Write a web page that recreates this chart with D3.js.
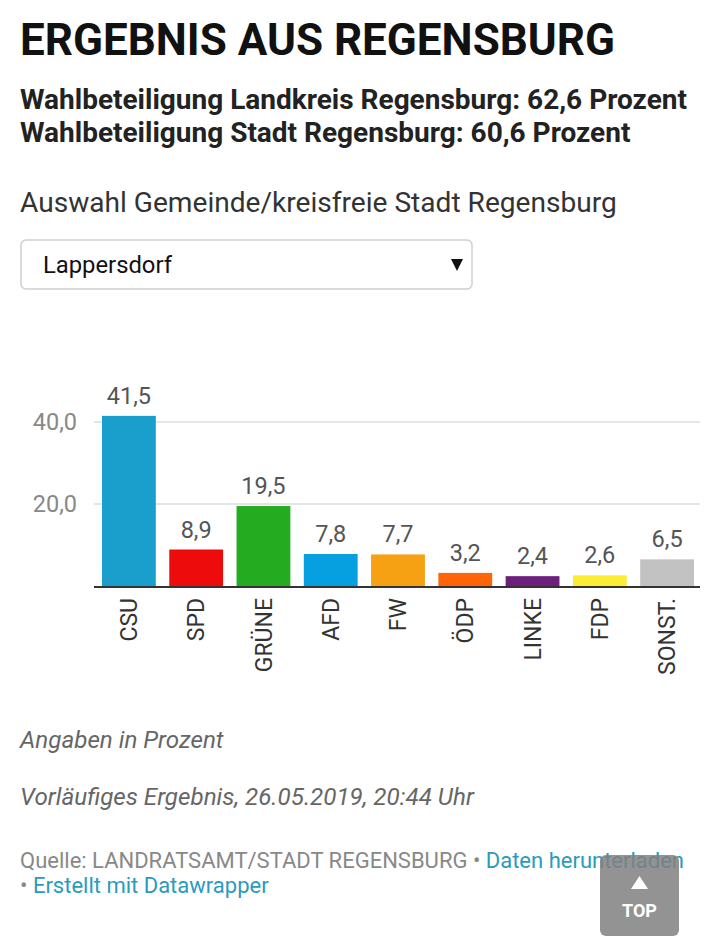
<!DOCTYPE html>
<html>
<head>
<meta charset="utf-8">
<script src="https://cdn.jsdelivr.net/npm/d3@7"></script>
<style>
  body { margin: 0; background: #fff; }
  svg { display: block; font-family: Roboto, "Noto Sans", sans-serif; }
</style>
</head>
<body>
<svg id="chart"></svg>
<script>
const width = 720;
const height = 948;

// data
const parties = ["CSU", "SPD", "GRÜNE", "AFD", "FW", "ÖDP", "LINKE", "FDP", "SONST."];
const values = [41.5, 8.9, 19.5, 7.8, 7.7, 3.2, 2.4, 2.6, 6.5];
const partyColors = ["#1a9fcd", "#ee0b0b", "#25ab1f", "#069fdf", "#f6a013", "#ff6408", "#6d1f7c", "#fdec34", "#c2c2c2"];
const yTicks = [20, 40];
const yTickLabels = ["20,0", "40,0"];

const title = "ERGEBNIS AUS REGENSBURG";
const subtitles = [
    "Wahlbeteiligung Landkreis Regensburg: 62,6 Prozent",
    "Wahlbeteiligung Stadt Regensburg: 60,6 Prozent"
];

const svg = d3.select("#chart")
    .attr("width", width)
    .attr("height", height);

const fmt = v => v.toFixed(1).replace(".", ",");

// header
svg.append("text")
    .attr("x", 20).attr("y", 55)
    .attr("font-size", 44).attr("font-weight", 700).attr("fill", "#111")
    .text(title);

subtitles.forEach((s, i) => {
    svg.append("text")
        .attr("x", 20).attr("y", 109 + i * 33)
        .attr("font-size", 28).attr("font-weight", 700).attr("fill", "#222")
        .text(s);
});

svg.append("text")
    .attr("x", 20).attr("y", 212)
    .attr("font-size", 28.1).attr("fill", "#333")
    .text("Auswahl Gemeinde/kreisfreie Stadt Regensburg");

// dropdown
svg.append("rect")
    .attr("x", 21).attr("y", 240).attr("width", 451).attr("height", 49)
    .attr("rx", 5).attr("fill", "#fff")
    .attr("stroke", "#cfcfcf").attr("stroke-width", 1.5);

svg.append("text")
    .attr("x", 43).attr("y", 273)
    .attr("font-size", 23.8).attr("fill", "#111")
    .text("Lappersdorf");

svg.append("path")
    .attr("d", "M451,259 L463,259 L457,271 Z")
    .attr("fill", "#111");

// chart
const x = d3.scaleBand()
    .domain(parties)
    .range([102, 694])
    .paddingInner(0.2)
    .paddingOuter(0);

const y = d3.scaleLinear()
    .domain([0, 40])
    .range([586, 422]);

const grid = svg.append("g");
yTicks.forEach((t, i) => {
    grid.append("line")
        .attr("x1", 94).attr("x2", 700)
        .attr("y1", y(t)).attr("y2", y(t))
        .attr("stroke", "#dcdcdc").attr("stroke-width", 1.5);
    grid.append("text")
        .attr("x", 77).attr("y", y(t))
        .attr("dy", "0.35em")
        .attr("text-anchor", "end")
        .attr("font-size", 23.5).attr("fill", "#888")
        .text(yTickLabels[i]);
});

const data = parties.map((p, i) => ({party: p, value: values[i], color: partyColors[i]}));

svg.selectAll("rect.bar")
    .data(data)
    .join("rect")
    .attr("class", "bar")
    .attr("x", d => x(d.party))
    .attr("y", d => y(d.value))
    .attr("width", x.bandwidth())
    .attr("height", d => y(0) - y(d.value))
    .attr("fill", d => d.color);

svg.selectAll("text.val")
    .data(data)
    .join("text")
    .attr("class", "val")
    .attr("x", d => x(d.party) + x.bandwidth() / 2)
    .attr("y", d => y(d.value) - 12)
    .attr("text-anchor", "middle")
    .attr("font-size", 23.5).attr("fill", "#555")
    .text(d => fmt(d.value));

// baseline
svg.append("line")
    .attr("x1", 94).attr("x2", 700)
    .attr("y1", y(0) + 1).attr("y2", y(0) + 1)
    .attr("stroke", "#333").attr("stroke-width", 2);

svg.selectAll("text.cat")
    .data(data)
    .join("text")
    .attr("class", "cat")
    .attr("transform", d => `translate(${x(d.party) + x.bandwidth() / 2},598) rotate(-90)`)
    .attr("dy", "0.35em")
    .attr("text-anchor", "end")
    .attr("font-size", 23).attr("fill", "#333")
    .text(d => d.party);

// notes
svg.append("text")
    .attr("x", 20).attr("y", 748)
    .attr("font-size", 24.2).attr("font-style", "italic").attr("fill", "#666")
    .text("Angaben in Prozent");

svg.append("text")
    .attr("x", 20).attr("y", 805)
    .attr("font-size", 24.2).attr("font-style", "italic").attr("fill", "#666")
    .text("Vorläufiges Ergebnis, 26.05.2019, 20:44 Uhr");

const src = svg.append("text")
    .attr("x", 20).attr("y", 868)
    .attr("font-size", 22).attr("fill", "#888");
src.append("tspan").text("Quelle: LANDRATSAMT/STADT REGENSBURG • ");
src.append("tspan").attr("fill", "#2a9bbd").text("Daten herunterladen");

const src2 = svg.append("text")
    .attr("x", 20).attr("y", 893)
    .attr("font-size", 22).attr("fill", "#888");
src2.append("tspan").text("• ");
src2.append("tspan").attr("fill", "#2a9bbd").text("Erstellt mit Datawrapper");

// top button
const btn = svg.append("g");
btn.append("rect")
    .attr("x", 600).attr("y", 855).attr("width", 79).attr("height", 81)
    .attr("rx", 6).attr("fill", "rgba(128,128,128,0.85)");
btn.append("path")
    .attr("d", "M631,889 L648,889 L639.5,876 Z")
    .attr("fill", "#fff");
btn.append("text")
    .attr("x", 639.5).attr("y", 917)
    .attr("text-anchor", "middle")
    .attr("font-size", 18).attr("font-weight", 700).attr("fill", "#fff")
    .text("TOP");
</script>
</body>
</html>
